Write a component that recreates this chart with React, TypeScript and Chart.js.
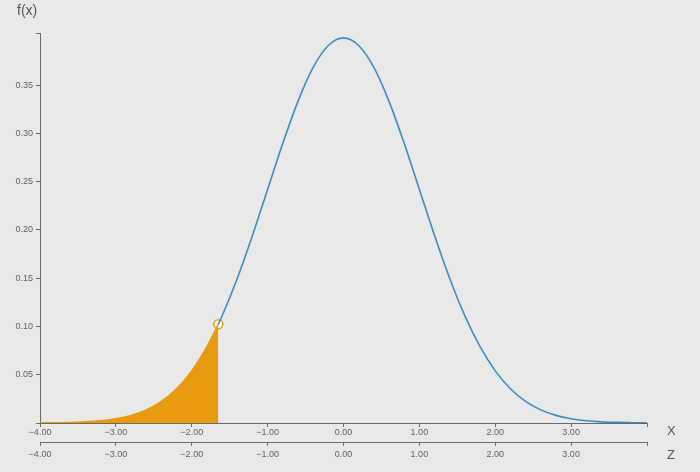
import React, { useEffect, useRef } from "react";
import { Chart, registerables } from "chart.js";

Chart.register(...registerables);

// z values of the plotted density curve
const curveX = [
  -1.65, -1.6, -1.4, -1.2, -1.0, -0.8, -0.6, -0.4, -0.2, 0,
  0.2, 0.4, 0.6, 0.8, 1.0, 1.2, 1.4, 1.6, 1.8, 2.0,
  2.2, 2.4, 2.6, 2.8, 3.0, 3.2, 3.4, 3.6, 3.8, 4.0,
];
const curveF = [
  0.1023, 0.1109, 0.1497, 0.1942, 0.2420, 0.2897, 0.3332, 0.3683, 0.3910, 0.3989,
  0.3910, 0.3683, 0.3332, 0.2897, 0.2420, 0.1942, 0.1497, 0.1109, 0.0790, 0.0540,
  0.0355, 0.0224, 0.0136, 0.0079, 0.0044, 0.0024, 0.0012, 0.0006, 0.0003, 0.0001,
];
// shaded left tail
const shadeX = [-4.0, -3.8, -3.6, -3.4, -3.2, -3.0, -2.8, -2.6, -2.4, -2.2, -2.0, -1.8, -1.65];
const shadeF = [0.0001, 0.0003, 0.0006, 0.0012, 0.0024, 0.0044, 0.0079, 0.0136, 0.0224, 0.0355, 0.0540, 0.0790, 0.1023];
// cutoff marker
const cutoffX = -1.65;
const cutoffF = 0.1023;

const xTicks = [-4, -3, -2, -1, 0, 1, 2, 3, 4];
const yTicks = [0.05, 0.1, 0.15, 0.2, 0.25, 0.3, 0.35];
const yMax = 0.404;

const axisColor = "#6a6a6a";
const labelColor = "#606060";
const tickFont = { family: "Liberation Sans, Arial, sans-serif", size: 9 };

const fmt = (v: number) => (v < 0 ? "\u2212" + Math.abs(v).toFixed(2) : v.toFixed(2));

const labelsPlugin = {
  id: "axisLabels",
  afterDraw(chart: any) {
    const ctx = chart.ctx;
    const sx = chart.scales.x;
    const sz = chart.scales.z;
    ctx.save();
    ctx.fillStyle = "#555";
    ctx.font = "13px Liberation Sans, Arial, sans-serif";
    ctx.textAlign = "left";
    ctx.textBaseline = "middle";
    ctx.fillText("X", sx.right + 20, sx.top + 8);
    ctx.fillText("Z", sz.right + 20, sz.top + 13);
    ctx.font = "14px Liberation Sans, Arial, sans-serif";
    ctx.fillText("f(x)", 17, 11);
    ctx.restore();
  },
};

export default function App() {
  const ref = useRef<HTMLCanvasElement>(null);
  useEffect(() => {
    if (!ref.current) return;
    const xAxis = (h: number, pad: number) => ({
      type: "linear" as const,
      position: "bottom" as const,
      min: -4,
      max: 4,
      afterBuildTicks: (s: any) => {
        s.ticks = xTicks.map((v) => ({ value: v }));
      },
      grid: { drawOnChartArea: false, tickLength: 4, color: axisColor, tickColor: axisColor },
      border: { color: axisColor, width: 1 },
      ticks: {
        font: tickFont,
        color: labelColor,
        padding: pad,
        maxRotation: 0,
        autoSkip: false,
        callback: (v: any) => (v === 4 ? "" : fmt(Number(v))),
      },
      afterFit: (s: any) => {
        s.height = h;
      },
    });
    const chart = new Chart(ref.current, {
      type: "line",
      data: {
        datasets: [
          {
            data: shadeX.map((x, i) => ({ x, y: shadeF[i] })),
            borderColor: "#e89b10",
            backgroundColor: "#e89b10",
            borderWidth: 1.5,
            fill: "origin",
            pointRadius: 0,
            cubicInterpolationMode: "monotone",
            xAxisID: "x",
          },
          {
            data: curveX.map((x, i) => ({ x, y: curveF[i] })),
            borderColor: "#3a8cc3",
            borderWidth: 1.6,
            fill: false,
            pointRadius: 0,
            cubicInterpolationMode: "monotone",
            xAxisID: "x",
          },
          {
            data: [{ x: cutoffX, y: cutoffF }],
            borderColor: "#e89b10",
            backgroundColor: "#ffffff",
            borderWidth: 1.5,
            pointRadius: 4.5,
            showLine: false,
            xAxisID: "x",
          },
        ],
      } as any,
      options: {
        animation: false,
        responsive: false,
        layout: { padding: { top: 33, right: 53, bottom: 4, left: 0 } },
        plugins: { legend: { display: false }, tooltip: { enabled: false } },
        scales: {
          x: xAxis(19, 0),
          z: xAxis(26, 3),
          y: {
            type: "linear",
            min: 0,
            max: yMax,
            afterBuildTicks: (s: any) => {
              s.ticks = [0, ...yTicks, yMax].map((v) => ({ value: v }));
            },
            grid: { drawOnChartArea: false, tickLength: 4, color: axisColor, tickColor: axisColor },
            border: { color: axisColor, width: 1 },
            ticks: {
              font: tickFont,
              color: labelColor,
              padding: 3,
              callback: (v: any) => (v === 0 || v === yMax ? "" : Number(v).toFixed(2)),
            },
            afterFit: (s: any) => {
              s.width = 40;
            },
          },
        } as any,
      },
      plugins: [labelsPlugin],
    });
    return () => chart.destroy();
  }, []);
  return (
    <div style={{ position: "fixed", left: 0, top: 0, width: 700, height: 472, background: "#e9e9e7" }}>
      <canvas ref={ref} width={700} height={472} style={{ display: "block" }} />
    </div>
  );
}
